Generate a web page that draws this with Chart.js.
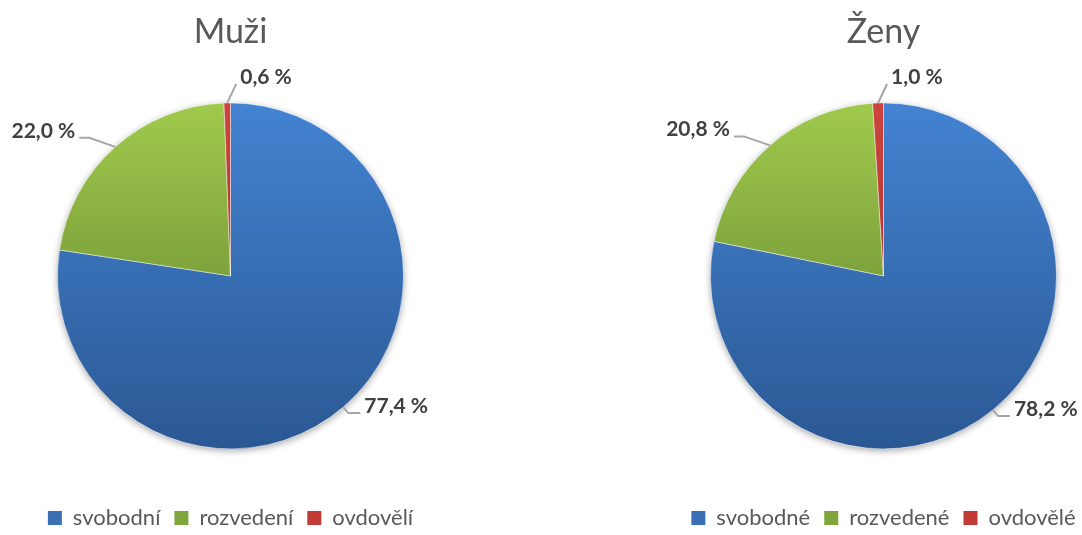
<!DOCTYPE html>
<html lang="cs">
<head>
<meta charset="utf-8">
<title>Rodinný stav – muži a ženy</title>
<script src="https://cdn.jsdelivr.net/npm/chart.js@4"></script>
<style>
  html, body { margin: 0; padding: 0; background: #fff; overflow: hidden; }
  body { width: 1082px; height: 535px; position: relative; }
  .graf { position: absolute; top: 0; width: 525px; height: 535px; }
  #grafMuzi { left: -32px; }
  #grafZeny { left: 621px; }
</style>
</head>
<body>
<div class="graf" id="grafMuzi"><canvas id="muzi" width="525" height="535"></canvas></div>
<div class="graf" id="grafZeny"><canvas id="zeny" width="525" height="535"></canvas></div>

<script>
// DATA (podíly v %)
const kategorieMuzi = ['svobodní', 'rozvedení', 'ovdovělí'];
const kategorieZeny = ['svobodné', 'rozvedené', 'ovdovělé'];
const hodnotyMuzi = [77.4, 22.0, 0.6];
const hodnotyZeny = [78.2, 20.8, 1.0];

// barvy výsečí: [nahoře, dole] pro svislý přechod
const barvy = [
  ['#4383d2', '#2b5893'],
  ['#a0ca4d', '#5c7b2a'],
  ['#cc443e', '#9a2a26']
];
const barvyLegenda = ['#3a6fb4', '#7fa53d', '#c03b36'];

const polomer = 173;

Chart.defaults.font.family = 'Lato';

// svislý přechod přes celý koláč
function prechod(context) {
  const i = context.dataIndex;
  const area = context.chart.chartArea;
  if (!area || i === undefined) return barvy[0][0];
  const stred = (area.top + area.bottom) / 2;
  const g = context.chart.ctx.createLinearGradient(0, stred - polomer, 0, stred + polomer);
  g.addColorStop(0, barvy[i][0]);
  g.addColorStop(1, barvy[i][1]);
  return g;
}

// měkký stín pod koláčem
const stin = {
  id: 'stin',
  beforeDatasetsDraw(chart) {
    const arc = chart.getDatasetMeta(0).data[0];
    const ctx = chart.ctx;
    ctx.save();
    ctx.shadowColor = 'rgba(0, 0, 0, 0.35)';
    ctx.shadowBlur = 7;
    ctx.shadowOffsetY = 2;
    ctx.fillStyle = '#fff';
    ctx.beginPath();
    ctx.arc(arc.x, arc.y, arc.outerRadius, 0, Math.PI * 2);
    ctx.fill();
    ctx.restore();
  }
};

// popisky s hodnotami a vodicí čáry
const popisky = {
  id: 'popisky',
  afterDatasetsDraw(chart, args, opts) {
    const ctx = chart.ctx;
    const hodnoty = chart.data.datasets[0].data;
    chart.getDatasetMeta(0).data.forEach((arc, i) => {
      const uhel = (arc.startAngle + arc.endAngle) / 2;
      const x0 = arc.x + Math.cos(uhel) * arc.outerRadius;
      const y0 = arc.y + Math.sin(uhel) * arc.outerRadius;
      const [dx, dy, h] = opts.vodici[i];
      const x2 = x0 + dx;
      const y2 = y0 + dy;
      const strana = dx < 0 ? -1 : 1;
      const x1 = x2 - strana * h;

      ctx.save();
      ctx.strokeStyle = '#a6a6a6';
      ctx.lineWidth = 2;
      ctx.beginPath();
      ctx.moveTo(x0, y0);
      ctx.lineTo(x1, y2);
      ctx.lineTo(x2, y2);
      ctx.stroke();

      ctx.font = 'bold 21px Lato';
      ctx.fillStyle = '#404040';
      ctx.textAlign = strana < 0 ? 'right' : 'left';
      ctx.textBaseline = 'middle';
      const text = hodnoty[i].toFixed(1).replace('.', ',') + ' %';
      ctx.fillText(text, x2 + strana * 4, y2 - 7);
      ctx.restore();
    });
  }
};

function gerujGraf(idCanvas, nadpis, kategorie, hodnoty) {
  const config = {
    type: 'pie',
    data: {
      labels: kategorie,
      datasets: [{
        data: hodnoty,
        backgroundColor: prechod,
        borderColor: 'rgba(255, 255, 255, 0.45)',
        borderWidth: 1,
        hoverOffset: 0
      }]
    },
    options: {
      responsive: false,
      animation: false,
      events: [],
      radius: polomer,
      layout: { padding: { top: 0, bottom: -4, left: 0, right: 0 } },
      plugins: {
        title: {
          display: true,
          text: nadpis,
          color: '#595959',
          font: { family: 'Lato', size: 34, weight: 'normal' },
          padding: { top: 12, bottom: 6 }
        },
        legend: {
          position: 'bottom',
          labels: {
            color: '#595959',
            font: { family: 'Lato', size: 22 },
            boxWidth: 14,
            boxHeight: 14,
            padding: 14,
            generateLabels(chart) {
              const polozky = Chart.overrides.doughnut.plugins.legend.labels.generateLabels(chart);
              polozky.forEach((p, i) => {
                p.fillStyle = barvyLegenda[i];
                p.strokeStyle = 'transparent';
                p.lineWidth = 0;
              });
              return polozky;
            }
          }
        },
        tooltip: { enabled: false },
        popisky: {
          // [posun x, posun y, vodorovný úsek] od okraje výseče
          vodici: [[17, 6, 12], [-36, -9, 10], [9, -19, 0]]
        }
      }
    },
    plugins: [stin, popisky]
  };

  return new Chart(document.getElementById(idCanvas), config);
}

gerujGraf('muzi', 'Muži', kategorieMuzi, hodnotyMuzi);
gerujGraf('zeny', 'Ženy', kategorieZeny, hodnotyZeny);
</script>
</body>
</html>
